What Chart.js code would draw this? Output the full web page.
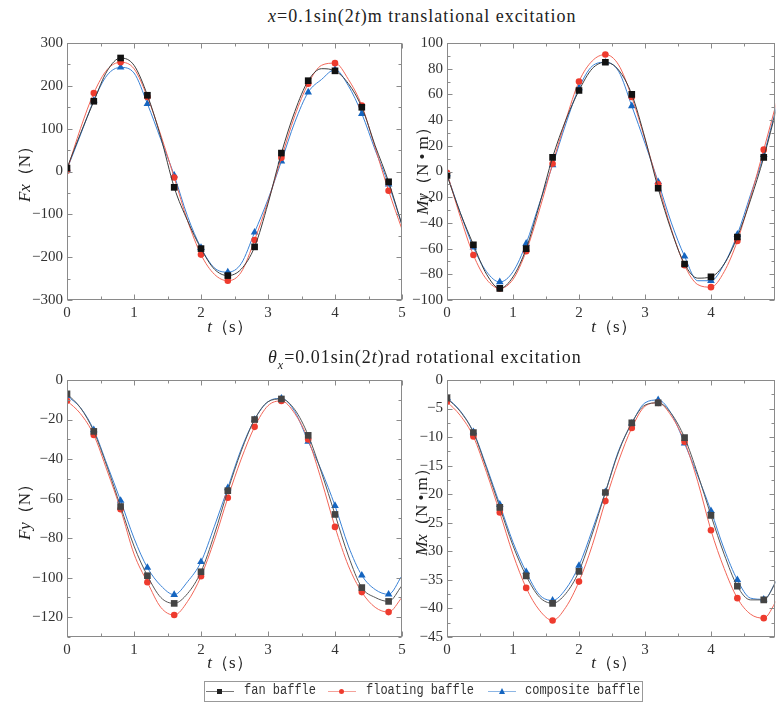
<!DOCTYPE html>
<html>
  <head>
    <meta charset="utf-8" />
    <title>Baffle loads under excitation</title>
    <style>
      body { margin: 0; width: 779px; height: 702px; overflow: hidden; position: relative; background: #fff; font-family: "Liberation Serif", serif; color: #222; }
      canvas { position: absolute; }
      .txt { position: absolute; white-space: nowrap; line-height: 20px; }
      .ttl { font-size: 18px; left: 268px; letter-spacing: 1px; }
      .ylab { font-size: 17px; transform: translate(-50%, -50%) rotate(-90deg); }
      .xlab { font-size: 17px; transform: translate(-50%, -50%); }
      .sub { font-size: 12px; font-style: italic; position: relative; top: 3px; }
      #legend { position: absolute; left: 204px; top: 681px; width: 437px; height: 19px; border: 1px solid #999; font-family: "Liberation Mono", monospace; font-size: 12px; color: #333; }
      .item { position: absolute; top: 0; height: 19px; line-height: 19px; }
      .item span { display: inline-block; transform: scaleY(1.15); }
      .ln { position: absolute; top: 9px; width: 28px; height: 1px; }
      .mk { position: absolute; }
    </style>
  </head>
  <body>
    <canvas id="fx" width="410" height="300" style="left:0px;top:30px"></canvas>
    <canvas id="my" width="380" height="300" style="left:400px;top:30px"></canvas>
    <canvas id="fy" width="410" height="300" style="left:0px;top:367px"></canvas>
    <canvas id="mx" width="380" height="300" style="left:400px;top:367px"></canvas>

    <div class="txt ttl" style="top:6px"><i>x</i>=0.1sin(2<i>t</i>)m translational excitation</div>
    <div class="txt ttl" style="top:347px"><i>θ</i><span class="sub" style="top:6px">x</span>=0.01sin(2<i>t</i>)rad rotational excitation</div>

    <div class="txt ylab" style="left:25px;top:170px"><i>F</i><i>x</i>（N）</div>
    <div class="txt ylab" style="left:423px;top:167px"><i>M</i><i>y</i>（N • m）</div>
    <div class="txt ylab" style="left:25px;top:508px"><i>F</i><i>y</i>（N）</div>
    <div class="txt ylab" style="left:422px;top:508px"><i>M</i><i>x</i>（N • m）</div>

    <div class="txt xlab" style="left:230px;top:327px"><i>t</i>（s）</div>
    <div class="txt xlab" style="left:614px;top:327px"><i>t</i>（s）</div>
    <div class="txt xlab" style="left:230px;top:663px"><i>t</i>（s）</div>
    <div class="txt xlab" style="left:614px;top:663px"><i>t</i>（s）</div>

    <div id="legend">
      <div class="item" style="left:1px;width:120px">
        <div class="ln" style="left:0;background:#777"></div>
        <div class="mk" style="left:11px;top:7px;width:5px;height:5px;background:#222"></div>
        <span style="position:absolute;left:38px">fan baffle</span>
      </div>
      <div class="item" style="left:123px;width:150px">
        <div class="ln" style="left:0;background:#f4a29a"></div>
        <div class="mk" style="left:11px;top:7px;width:5px;height:5px;border-radius:50%;background:#ee3b2e"></div>
        <span style="position:absolute;left:38px">floating baffle</span>
      </div>
      <div class="item" style="left:283px;width:155px">
        <div class="ln" style="left:0;background:#8db6e4"></div>
        <div class="mk" style="left:11px;top:6px;width:0;height:0;border-left:3px solid transparent;border-right:3px solid transparent;border-bottom:6px solid #1565c0"></div>
        <span style="position:absolute;left:37px">composite baffle</span>
      </div>
    </div>

    <script src="https://cdn.jsdelivr.net/npm/chart.js@4.4.1/dist/chart.umd.min.js"></script>
    <script>
      // time samples (s); markers are drawn on every 0.4 s
      const times = [0, 0.2, 0.4, 0.6, 0.8, 1.0, 1.2, 1.4, 1.6, 1.8, 2.0, 2.2, 2.4, 2.6, 2.8, 3.0, 3.2, 3.4, 3.6, 3.8, 4.0, 4.2, 4.4, 4.6, 4.8, 5.0];

      // translational excitation
      const fxFan = [8, 88, 164, 235, 265, 248, 178, 80, -37, -115, -180, -228, -243, -228, -176, -75, 43, 140, 212, 240, 235, 205, 150, 60, -24, -125];
      const fxFloating = [2, 100, 183, 238, 255, 240, 174, 85, -14, -115, -194, -240, -255, -235, -160, -70, 32, 130, 205, 248, 253, 215, 154, 55, -45, -135];
      const fxComposite = [5, 85, 166, 225, 243, 230, 158, 75, -9, -105, -178, -225, -235, -215, -142, -65, 24, 115, 185, 215, 238, 200, 135, 50, -30, -125];

      const myFan = [-3, -32, -57, -80, -91, -82, -60, -26, 11, 40, 63, 80, 85, 79, 60, 26, -13, -46, -72, -83, -82, -72, -51, -22, 11, 50];
      const myFloating = [-1, -35, -65, -84, -91, -84, -62, -30, 6, 40, 70, 86, 91, 83, 58, 25, -10, -45, -73, -88, -90, -78, -54, -20, 17, 55];
      const myComposite = [-2, -32, -59, -78, -86, -78, -56, -25, 5, 37, 65, 82, 85, 78, 51, 22, -8, -40, -66, -85, -85, -72, -49, -18, 13, 52];

      // rotational excitation
      const fyFan = [-7, -14, -26, -44, -64, -84, -99, -110, -113, -108, -97, -78, -56, -36, -20, -11, -9.6, -15, -28, -47, -68, -89, -105, -110, -112, -104];
      const fyFloating = [-10.5, -17, -27.8, -46, -65.4, -88, -102.3, -115, -118.9, -112, -99.3, -81, -59.6, -40, -23.7, -13, -10.6, -17, -30.1, -51, -74.3, -94, -107.3, -115, -117.4, -110];
      const fyComposite = [-8, -14, -25.3, -43, -61, -80, -94.9, -104, -108.6, -102, -92, -74, -54.6, -35, -20, -11, -9.3, -16, -31.1, -46, -63.6, -84, -98.8, -106, -108.4, -99];

      const mxFan = [-3.2, -5.5, -9.2, -15.5, -22.3, -29, -34.3, -38, -39.1, -37.4, -33.5, -27, -19.7, -12.6, -7.5, -4.4, -4.0, -5.9, -10.1, -16.5, -23.7, -30.5, -36.1, -38.5, -38.5, -35];
      const mxFloating = [-3.8, -6.2, -9.9, -16.2, -23.2, -30.5, -36.4, -40.3, -42.1, -39.8, -35.3, -29, -21.2, -14.2, -8.4, -4.6, -4.0, -6.3, -10.8, -17.8, -26.3, -33, -38.2, -41, -41.7, -38.5];
      const mxComposite = [-3.1, -5.4, -9.1, -15.2, -21.8, -28.4, -33.6, -37.6, -38.6, -36.6, -32.5, -26.3, -19.6, -12.4, -7.6, -4.0, -3.5, -5.9, -11.1, -16.8, -22.9, -29.6, -35.0, -38.2, -38.4, -35];

      Chart.defaults.font.family = "'Liberation Serif', 'Times New Roman', serif";
      const tickFont = { family: "'Liberation Serif', 'Times New Roman', serif", size: 15 };
      const minus = (v) => String(v).replace("-", "\u2212");

      // frame + inward major/minor ticks on all four sides
      const frameTicks = {
        id: "frameTicks",
        afterDatasetsDraw(chart, args, opts) {
          const ctx = chart.ctx;
          const a = chart.chartArea;
          const xs = chart.scales.x, ys = chart.scales.y;
          const L = Math.round(a.left) + 0.5, R = Math.round(a.right) - 0.5;
          const T = Math.round(a.top) + 0.5, B = Math.round(a.bottom) - 0.5;
          ctx.save();
          ctx.strokeStyle = "#8a8a8a";
          ctx.lineWidth = 1;
          ctx.strokeRect(L, T, R - L, B - T);
          ctx.beginPath();
          const nx = Math.floor((xs.max - xs.min) / opts.xMinor + 1e-6);
          for (let i = 0; i <= nx; i++) {
            const v = xs.min + i * opts.xMinor;
            const major = Math.abs(v / opts.xMajor - Math.round(v / opts.xMajor)) < 1e-6;
            const len = major ? 5 : 3;
            const p = Math.round(xs.getPixelForValue(v)) + 0.5;
            ctx.moveTo(p, B); ctx.lineTo(p, B - len);
            ctx.moveTo(p, T); ctx.lineTo(p, T + len);
          }
          const ny = Math.floor((ys.max - ys.min) / opts.yMinor + 1e-6);
          for (let i = 0; i <= ny; i++) {
            const v = ys.min + i * opts.yMinor;
            const major = Math.abs(v / opts.yMajor - Math.round(v / opts.yMajor)) < 1e-6;
            const len = major ? 5 : 3;
            const p = Math.round(ys.getPixelForValue(v)) + 0.5;
            ctx.moveTo(L, p); ctx.lineTo(L + len, p);
            ctx.moveTo(R, p); ctx.lineTo(R - len, p);
          }
          ctx.stroke();
          ctx.restore();
        },
      };

      function series(vals, lineColor, markColor, style, r) {
        return {
          data: times.map((t, i) => ({ x: t, y: vals[i] })),
          borderColor: lineColor,
          borderWidth: 1,
          backgroundColor: markColor,
          pointBackgroundColor: markColor,
          pointBorderColor: markColor,
          pointBorderWidth: 0,
          pointStyle: style,
          pointRadius: (c) => (c.dataIndex % 2 === 0 ? r : 0),
          cubicInterpolationMode: "monotone",
        };
      }

      function makeChart(id, fan, floating, composite, cfg) {
        const ctx = document.getElementById(id).getContext("2d");
        return new Chart(ctx, {
          type: "line",
          data: {
            datasets: [
              series(fan, cfg.fanLine, cfg.fanMark, "rect", 4.7),
              series(floating, "#f26658", "#ee3b2e", "circle", 3.3),
              series(composite, "#3a82d6", "#1565c0", "triangle", 4.4),
            ],
          },
          options: {
            responsive: false,
            animation: false,
            layout: { padding: { left: 0, right: cfg.padRight, top: 9, bottom: 0 } },
            plugins: {
              legend: { display: false },
              tooltip: { enabled: false },
              frameTicks: { xMajor: 1, xMinor: 0.5, yMajor: cfg.yStep, yMinor: cfg.yStep / 2 },
            },
            scales: {
              x: {
                type: "linear",
                min: 0,
                max: cfg.xMax,
                afterFit: (s) => { s.height = 30; },
                grid: { display: false, drawTicks: false },
                border: { display: false },
                ticks: { stepSize: 1, includeBounds: false, padding: 4, font: tickFont, color: "#333", maxRotation: 0, autoSkip: false },
              },
              y: {
                min: cfg.yMin,
                max: cfg.yMax,
                afterFit: (s) => { s.width = cfg.yWidth; },
                grid: { display: false, drawTicks: false },
                border: { display: false },
                ticks: { stepSize: cfg.yStep, includeBounds: false, padding: 4, font: tickFont, color: "#333", callback: minus },
              },
            },
          },
          plugins: [frameTicks],
        });
      }

      makeChart("fx", fxFan, fxFloating, fxComposite, { fanLine: "#3c3c3c", fanMark: "#111", padRight: 8, xMax: 5, yMin: -300, yMax: 300, yStep: 100, yWidth: 67 });
      makeChart("my", myFan, myFloating, myComposite, { fanLine: "#3c3c3c", fanMark: "#111", padRight: 0, xMax: 4.975, yMin: -100, yMax: 100, yStep: 20, yWidth: 47 });
      makeChart("fy", fyFan, fyFloating, fyComposite, { fanLine: "#555", fanMark: "#444", padRight: 8, xMax: 5, yMin: -130, yMax: 0, yStep: 20, yWidth: 67 });
      makeChart("mx", mxFan, mxFloating, mxComposite, { fanLine: "#555", fanMark: "#444", padRight: 0, xMax: 4.975, yMin: -45, yMax: 0, yStep: 5, yWidth: 47 });
    </script>
  </body>
</html>
